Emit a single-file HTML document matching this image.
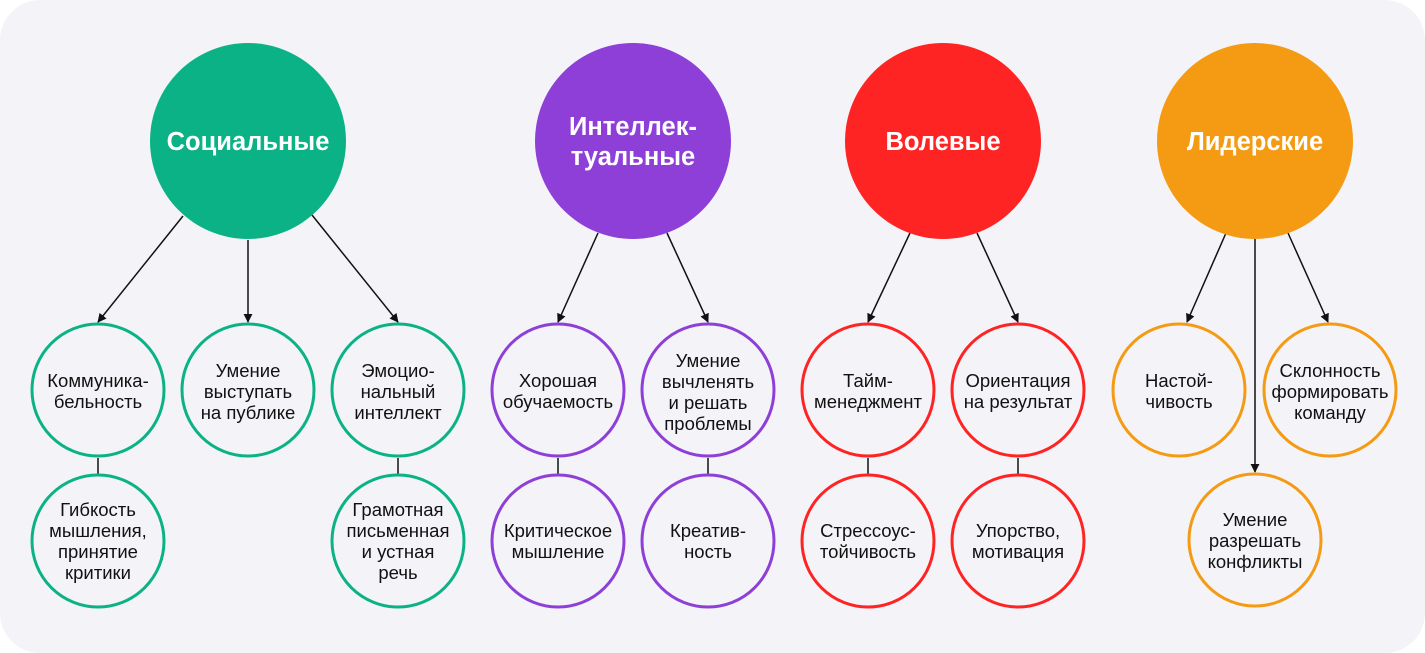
<!DOCTYPE html>
<html><head><meta charset="utf-8"><style>
html,body{margin:0;padding:0;background:#fff;}
svg{display:block;}
text{font-family:"Liberation Sans","DejaVu Sans",sans-serif;}
.s{font-size:18.5px;fill:#111;text-anchor:middle;}
.b{font-size:25.5px;font-weight:bold;fill:#fff;text-anchor:middle;}
</style></head><body>
<svg width="1425" height="653" viewBox="0 0 1425 653" xmlns="http://www.w3.org/2000/svg">
<defs><marker id="a" viewBox="0 0 10 10" refX="9" refY="5" markerWidth="9" markerHeight="9" markerUnits="userSpaceOnUse" orient="auto"><path d="M0,0L10,5L0,10z" fill="#111"/></marker></defs>
<rect x="0" y="0" width="1425" height="653" rx="40" fill="#f4f4f8"/>
<g stroke="#111" stroke-width="1.5" fill="none">
<line x1="183" y1="216" x2="98" y2="322" marker-end="url(#a)"/>
<line x1="248" y1="240" x2="248" y2="322" marker-end="url(#a)"/>
<line x1="312" y1="215" x2="398" y2="322" marker-end="url(#a)"/>
<line x1="598" y1="233" x2="558" y2="322" marker-end="url(#a)"/>
<line x1="667" y1="233" x2="708" y2="322" marker-end="url(#a)"/>
<line x1="910" y1="233" x2="868" y2="322" marker-end="url(#a)"/>
<line x1="977" y1="233" x2="1018" y2="322" marker-end="url(#a)"/>
<line x1="1226" y1="233" x2="1187" y2="322" marker-end="url(#a)"/>
<line x1="1255" y1="239" x2="1255" y2="472" marker-end="url(#a)"/>
<line x1="1288" y1="233" x2="1328" y2="322" marker-end="url(#a)"/>
<line x1="98" y1="458" x2="98" y2="474"/>
<line x1="398" y1="458" x2="398" y2="474"/>
<line x1="558" y1="458" x2="558" y2="474"/>
<line x1="708" y1="458" x2="708" y2="474"/>
<line x1="868" y1="458" x2="868" y2="474"/>
<line x1="1018" y1="458" x2="1018" y2="474"/>
</g>
<circle cx="248" cy="141" r="98" fill="#0bb286"/>
<circle cx="633" cy="141" r="98" fill="#8e3fd8"/>
<circle cx="943" cy="141" r="98" fill="#ff2424"/>
<circle cx="1255" cy="141" r="98" fill="#f59a13"/>
<text class="b" x="248" y="150">Социальные</text>
<text class="b" x="633" y="135">Интеллек-</text>
<text class="b" x="633" y="165">туальные</text>
<text class="b" x="943" y="150">Волевые</text>
<text class="b" x="1255" y="150">Лидерские</text>
<g fill="none" stroke-width="3">
<g stroke="#0bb286"><circle cx="98" cy="390" r="66"/><circle cx="248" cy="390" r="66"/><circle cx="398" cy="390" r="66"/><circle cx="98" cy="541" r="66"/><circle cx="398" cy="541" r="66"/></g>
<g stroke="#8e3fd8"><circle cx="558" cy="390" r="66"/><circle cx="708" cy="390" r="66"/><circle cx="558" cy="541" r="66"/><circle cx="708" cy="541" r="66"/></g>
<g stroke="#ff2424"><circle cx="868" cy="390" r="66"/><circle cx="1018" cy="390" r="66"/><circle cx="868" cy="541" r="66"/><circle cx="1018" cy="541" r="66"/></g>
<g stroke="#f59a13"><circle cx="1179" cy="390" r="66"/><circle cx="1330" cy="390" r="66"/><circle cx="1255" cy="540" r="66"/></g>
</g>
<g class="s">
<text class="s" x="98" y="387">Коммуника-</text><text class="s" x="98" y="408">бельность</text>
<text class="s" x="248" y="377">Умение</text><text class="s" x="248" y="398">выступать</text><text class="s" x="248" y="419">на публике</text>
<text class="s" x="398" y="377">Эмоцио-</text><text class="s" x="398" y="398">нальный</text><text class="s" x="398" y="419">интеллект</text>
<text class="s" x="98" y="516">Гибкость</text><text class="s" x="98" y="537">мышления,</text><text class="s" x="98" y="558">принятие</text><text class="s" x="98" y="579">критики</text>
<text class="s" x="398" y="516">Грамотная</text><text class="s" x="398" y="537">письменная</text><text class="s" x="398" y="558">и устная</text><text class="s" x="398" y="579">речь</text>
<text class="s" x="558" y="387">Хорошая</text><text class="s" x="558" y="408">обучаемость</text>
<text class="s" x="708" y="367">Умение</text><text class="s" x="708" y="388">вычленять</text><text class="s" x="708" y="409">и решать</text><text class="s" x="708" y="430">проблемы</text>
<text class="s" x="558" y="537">Критическое</text><text class="s" x="558" y="558">мышление</text>
<text class="s" x="708" y="537">Креатив-</text><text class="s" x="708" y="558">ность</text>
<text class="s" x="868" y="387">Тайм-</text><text class="s" x="868" y="408">менеджмент</text>
<text class="s" x="1018" y="387">Ориентация</text><text class="s" x="1018" y="408">на результат</text>
<text class="s" x="868" y="537">Стрессоус-</text><text class="s" x="868" y="558">тойчивость</text>
<text class="s" x="1018" y="537">Упорство,</text><text class="s" x="1018" y="558">мотивация</text>
<text class="s" x="1179" y="387">Настой-</text><text class="s" x="1179" y="408">чивость</text>
<text class="s" x="1330" y="377">Склонность</text><text class="s" x="1330" y="398">формировать</text><text class="s" x="1330" y="419">команду</text>
<text class="s" x="1255" y="526">Умение</text><text class="s" x="1255" y="547">разрешать</text><text class="s" x="1255" y="568">конфликты</text>
</g>
</svg>
</body></html>
